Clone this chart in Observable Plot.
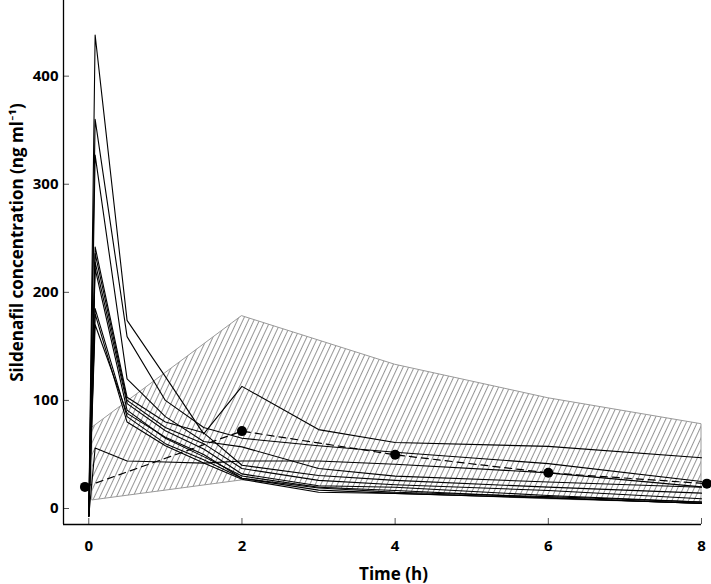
<!DOCTYPE html>
<html><head><meta charset="utf-8">
<script src="https://cdn.jsdelivr.net/npm/d3@7"></script>
<script src="https://cdn.jsdelivr.net/npm/@observablehq/plot@0.6"></script>
<style>body{margin:0;background:#fff}</style>
</head><body><div id="chart"></div>
<script>
// sampling times (h)
const times = [0, 0.083, 0.5, 1, 1.5, 2, 3, 4, 6, 8];
// individual subject concentrations (ng/ml)
const subject1  = [-7, 438, 174, 122, 69, 113, 73, 61, 57.5, 47];
const subject2  = [-7, 360, 159, 100, 75, 65, 58, 52, 41.5, 25];
const subject3  = [-7, 327, 120, 85, 62, 57, 37, 30, 24.5, 19.7];
const subject4  = [-7, 242, 103, 80, 70, 40, 30.5, 26, 19.8, 14.2];
const subject5  = [-7, 236, 100, 75, 60, 37, 26, 22, 16.7, 9];
const subject6  = [-7, 228, 97, 72, 55, 32, 21, 19.7, 12, 5.9];
const subject7  = [-7, 222, 91, 65, 48, 30, 19.7, 16.7, 10, 4.6];
const subject8  = [-7, 185, 85, 60, 45, 28, 17, 14, 9.9, 4.6];
const subject9  = [-7, 180, 80, 58, 42, 27, 15, 13.9, 9.5, 5];
const subject10 = [-7, 170, 88, 66, 50, 28, 19, 15, 11, 6];
const subject11 = [-7, 56, 44, 43, 42, 44, 44, 41, 33, 20];
const subjects = [subject1, subject2, subject3, subject4, subject5, subject6, subject7, subject8, subject9, subject10, subject11];

// hatched prediction band
const bandTimes = [0.05, 2, 4, 6, 8];
const bandUpper = [75, 178, 133, 102, 78];
const bandLower = [7.5, 26, 14, 8.5, 4.5];

// observed means (dashed line with dots)
const obsTimes = [-0.05, 2, 4, 6, 8.07];
const obsMeans = [20, 71.6, 49.7, 33, 23];

const xTicks = [0, 2, 4, 6, 8];
const yTicks = [0, 100, 200, 300, 400];
const xDomain = [-0.33, 8];
const yDomain = [-14.8, 470];
const xLabel = "Time (h)";
const yLabel = "Sildenafil concentration (ng ml\u207B\u00B9)";

const W = 711, H = 584, mL = 63, mR = 10, mT = 0, mB = 60, tickPx = 6;
// tick length expressed in data units of each scale
const xTickLen = tickPx * (xDomain[1] - xDomain[0]) / (W - mL - mR);
const yTickLen = tickPx * (yDomain[1] - yDomain[0]) / (H - mT - mB);

const lines = subjects.flatMap((s, i) => s.map((c, j) => ({id: i, t: times[j], c})));
const band = bandTimes.map((t, i) => ({t, lo: bandLower[i], hi: bandUpper[i]}));
const obs = obsTimes.map((t, i) => ({t, c: obsMeans[i]}));

const font = "'Open Sans', Lato, 'DejaVu Sans', sans-serif";

const chart = Plot.plot({
  width: W, height: H,
  marginLeft: mL, marginRight: mR, marginTop: mT, marginBottom: mB,
  x: {domain: xDomain},
  y: {domain: yDomain},
  style: {fontFamily: font, fontWeight: "bold", fontSize: "15px", background: "white", color: "black"},
  marks: [
    Plot.areaY(band, {x: "t", y1: "lo", y2: "hi", fill: "url(#hatch)", stroke: "#9a9a9a", strokeWidth: 1}),
    Plot.line(lines, {x: "t", y: "c", z: "id", stroke: "black", strokeWidth: 1.1}),
    Plot.line(obs, {x: "t", y: "c", stroke: "black", strokeDasharray: "7,5", strokeWidth: 1.2}),
    Plot.dot(obs, {x: "t", y: "c", r: 5, fill: "black"}),
    // inward tick marks
    Plot.ruleY(yTicks, {y: d => d, x1: xDomain[0], x2: xDomain[0] + xTickLen, stroke: "#555", strokeWidth: 1}),
    Plot.ruleX(xTicks, {x: d => d, y1: yDomain[0], y2: yDomain[0] + yTickLen, stroke: "#555", strokeWidth: 1}),
    // tick labels
    Plot.axisY({ticks: yTicks, tickSize: 0, tickPadding: 5, fill: "black", label: null, tickFormat: d => String(d)}),
    Plot.axisX({ticks: xTicks, tickSize: 0, tickPadding: 16, fill: "black", label: null, tickFormat: d => String(d)}),
    // axis lines
    Plot.ruleX([xDomain[0]], {stroke: "black", strokeWidth: 1.3}),
    Plot.ruleY([yDomain[0]], {stroke: "black", strokeWidth: 1.3}),
    Plot.text([xLabel], {text: d => d, frameAnchor: "bottom", dx: 11, dy: 55, fontSize: 17, fontWeight: "bold"}),
    Plot.text([yLabel], {text: d => d, frameAnchor: "left", textAnchor: "middle", rotate: -90, dx: -46, dy: -20, fontSize: 17, fontWeight: "bold"})
  ]
});

const ns = "http://www.w3.org/2000/svg";
const defs = document.createElementNS(ns, "defs");
const pat = document.createElementNS(ns, "pattern");
pat.setAttribute("id", "hatch");
pat.setAttribute("patternUnits", "userSpaceOnUse");
pat.setAttribute("width", "5");
pat.setAttribute("height", "10");
pat.setAttribute("patternTransform", "rotate(25)");
const ln = document.createElementNS(ns, "line");
ln.setAttribute("x1", "0.5"); ln.setAttribute("y1", "-1");
ln.setAttribute("x2", "0.5"); ln.setAttribute("y2", "11");
ln.setAttribute("stroke", "#8a8a8a"); ln.setAttribute("stroke-width", "0.9");
pat.appendChild(ln);
defs.appendChild(pat);
chart.insertBefore(defs, chart.firstChild);

document.getElementById("chart").appendChild(chart);
</script>
</body></html>
